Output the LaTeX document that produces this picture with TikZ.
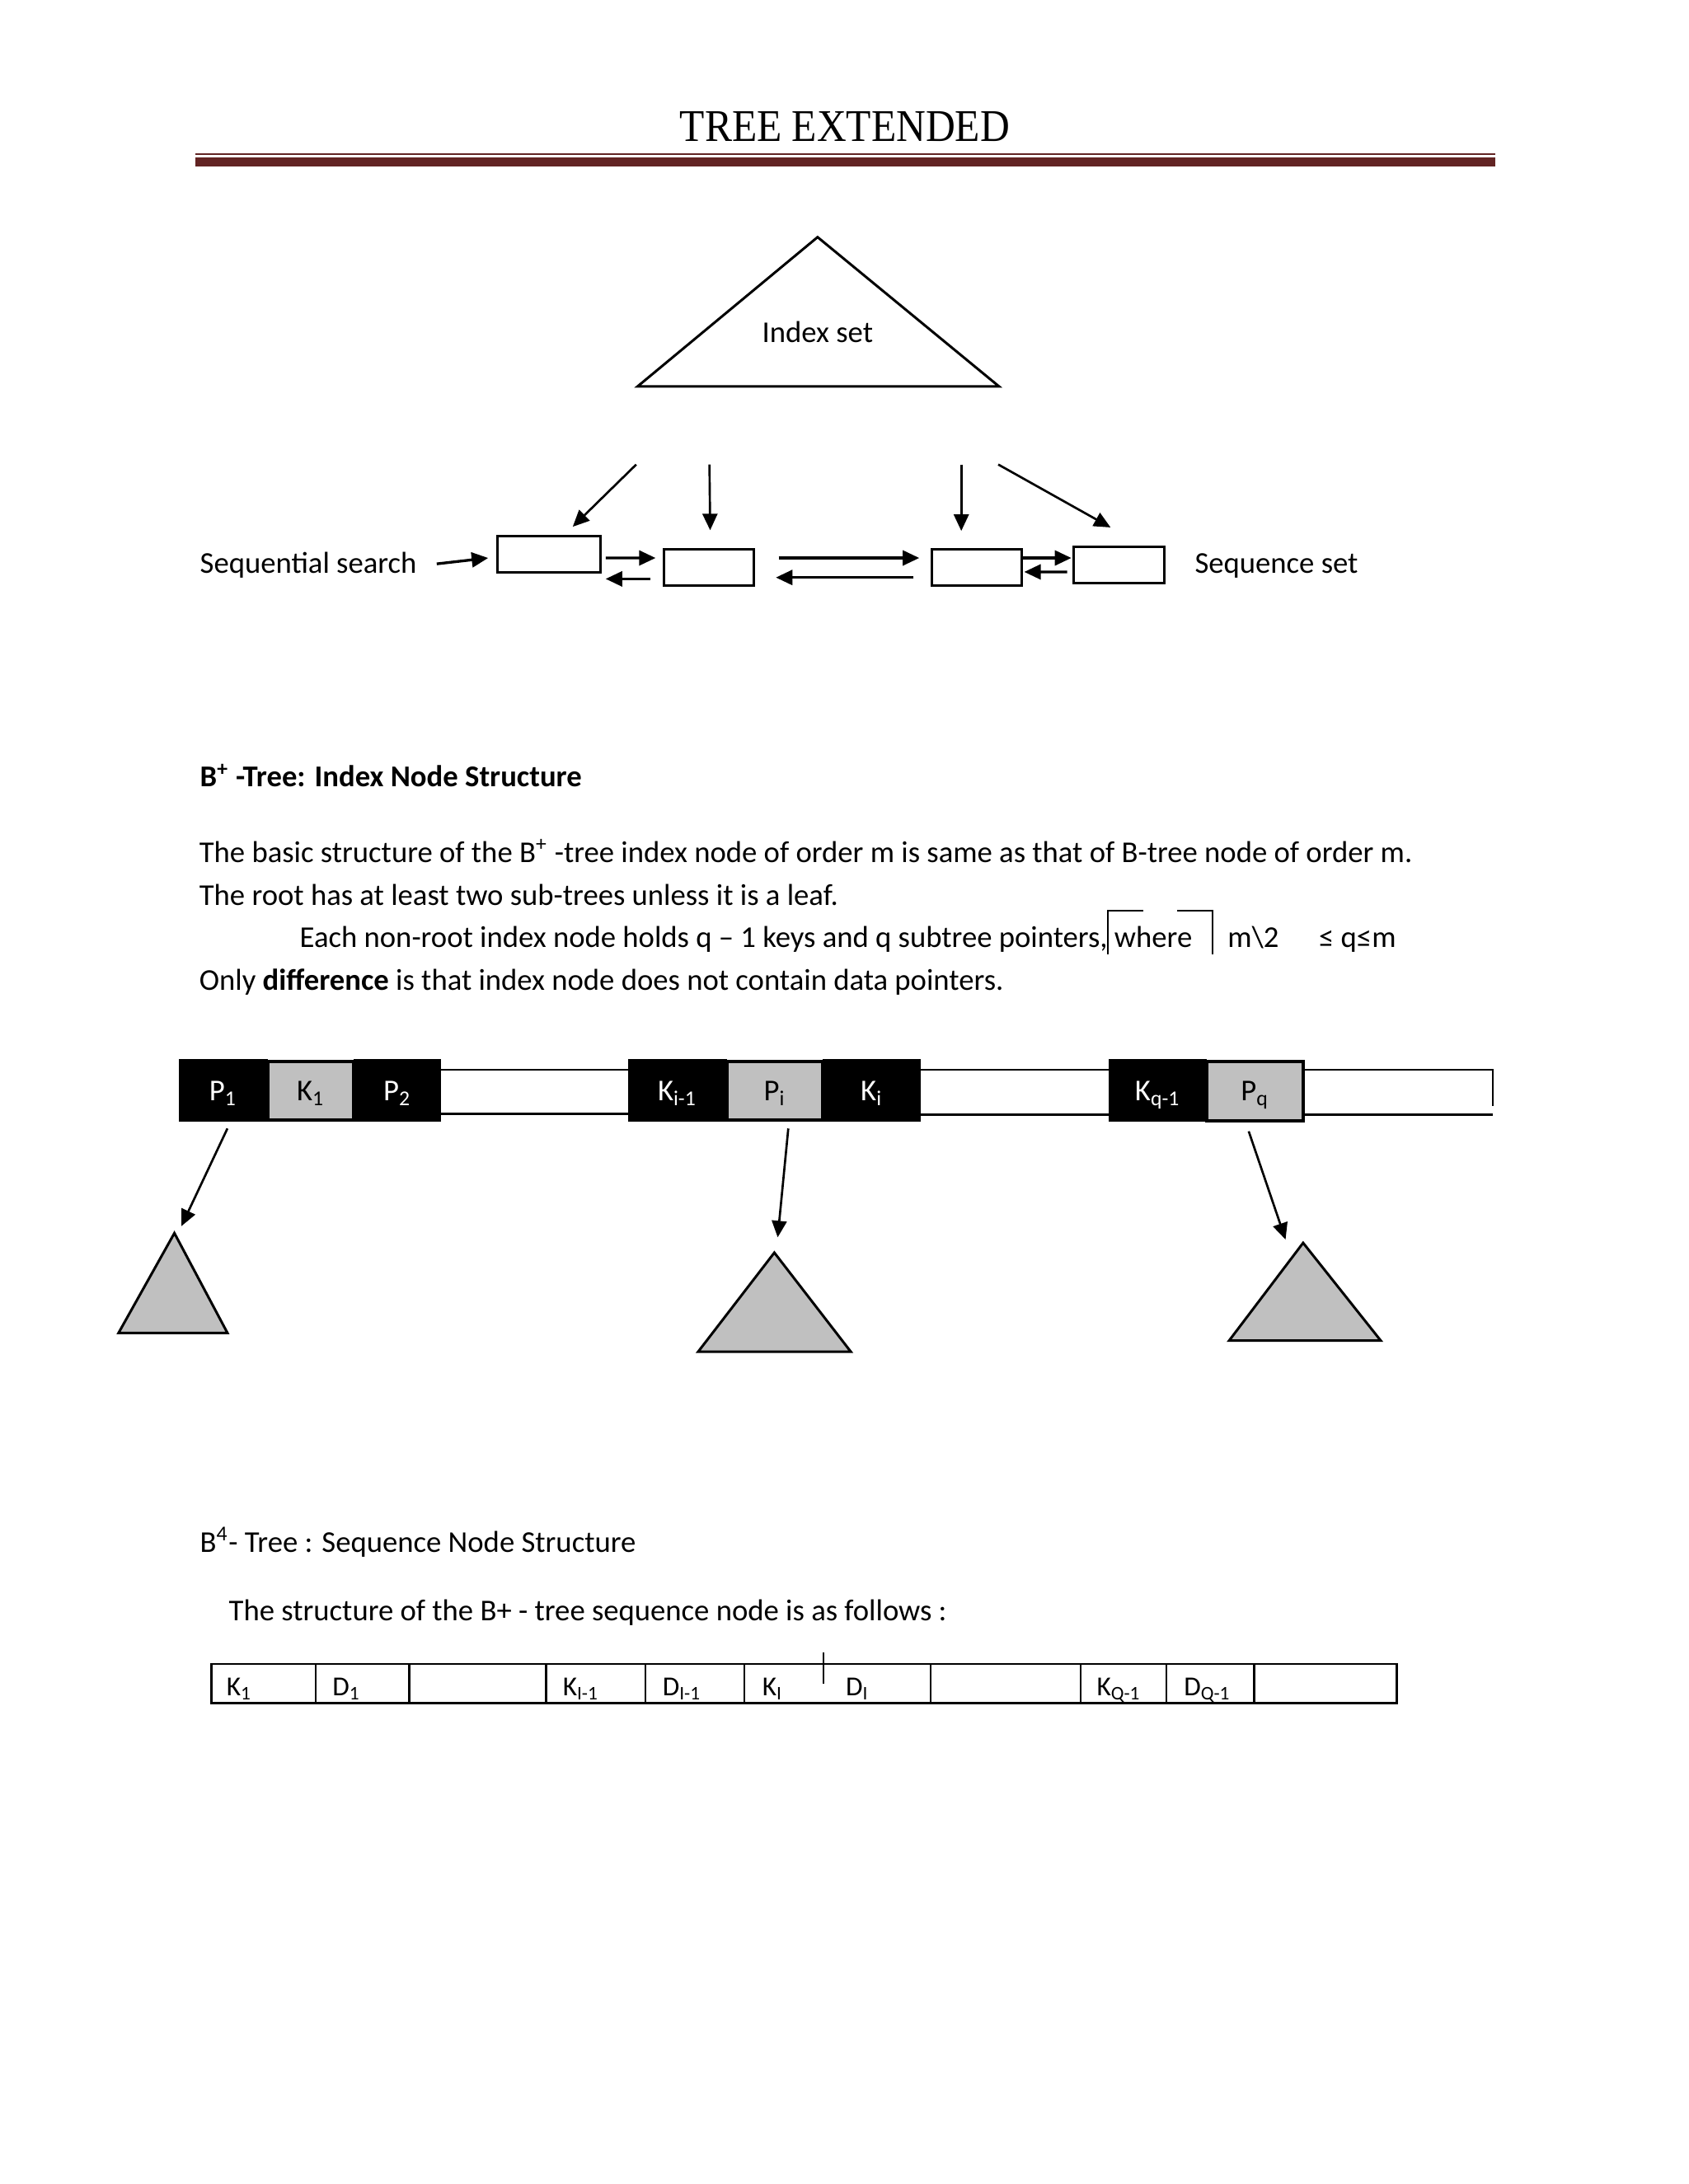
\documentclass[tikz,border=0pt]{standalone}
\usepackage{fontspec}
\setmainfont{Carlito}
\newfontfamily\titlefont{Liberation Serif}
\usetikzlibrary{calc,arrows.meta}
\definecolor{rulered}{HTML}{622423}
\definecolor{cellgray}{HTML}{C0C0C0}

\begin{document}
\begin{tikzpicture}[x=0.017843cm,y=-0.017843cm,font=\fontsize{11}{13.4}\selectfont,
    txt/.style={inner sep=0pt,anchor=base west},
    arr/.style={-{Triangle[length=6pt,width=5.4pt]},line width=0.8pt},
    box/.style={draw,line width=0.9pt,minimum height=0.464cm,inner sep=0pt},
    wlab/.style={text=white,inner sep=0pt,anchor=base},
    blab/.style={inner sep=0pt,anchor=base},
    tlab/.style={inner sep=0pt,anchor=base west,font=\fontsize{10}{12}\selectfont}]
  \useasboundingbox (0,0) rectangle (1210,1565.67);
  % title and rules
  \node[font=\titlefont\fontsize{16.5}{18}\selectfont,xscale=0.9](title) at (605.5,91){TREE EXTENDED};
  \draw[rulered,line width=0.6pt] (140,110.5) -- (1072,110.5);
  \draw[rulered,line width=3.1pt] (140,116.2) -- (1072,116.2);

  % index set / sequence set
  \coordinate (top) at (586,170);
  \draw[line width=0.9pt] (top) -- (716,277) -- (457,277) -- cycle;
  \node(idx) at (586,238){Index set};
  \node[box,minimum width=1.31cm](b1) at (393.5,397.5){};
  \node[box,minimum width=1.15cm](b2) at (508,406.5){};
  \node[box,minimum width=1.15cm](b3) at (700,406.5){};
  \node[box,minimum width=1.15cm](b4) at (802,405){};
  \coordinate (s1) at (456,333);
  \coordinate (s2) at (508.5,333);
  \coordinate (s3) at (689,333);
  \coordinate (s4) at (715.5,333);
  \draw[arr] (s1) -- ($(b1.north)+(17,-6)$);
  \draw[arr] (s2) -- ($(b2.north)+(1,-12.5)$);
  \draw[arr] (s3) -- ($(b3.north)+(-11,-12)$);
  \draw[arr] (s4) -- ($(b4.north)+(-6,-13)$);
  \node[txt](ss) at (143,411){Sequential search};
  \node[txt](sq) at (856,411){Sequence set};
  \draw[arr,line width=1pt] ($(ss.east)+(14,-1)$) -- ($(b1.west)+(-6,2.5)$);
  \draw[arr,line width=1pt] ($(b1.east)+(3,2.5)$) -- ($(b2.west)+(-5,-6.5)$);
  \draw[arr,line width=1pt] ($(b2.west)+(-9,8.5)$) -- ($(b1.east)+(3,17.5)$);
  \draw[arr,line width=1pt] ($(b2.east)+(17,-6.5)$) -- ($(b3.west)+(-8,-6.5)$);
  \draw[arr,line width=1pt] ($(b3.west)+(-12,7.5)$) -- ($(b2.east)+(15,7.5)$);
  \draw[arr,line width=1pt] ($(b3.east)+(0,-6.5)$) -- ($(b4.west)+(-1,-5)$);
  \draw[arr,line width=1pt] ($(b4.west)+(-4,5)$) -- ($(b3.east)+(1,3.5)$);

  % text
  \node[txt,font=\fontsize{11}{13.4}\selectfont\bfseries](h1) at (143,564){B\textsuperscript{+} -Tree: Index Node Structure};
  \node[txt](l1) at (142.5,618){The basic structure of the B\textsuperscript{+} -tree index node of order m is same as that of B-tree node of order m.};
  \node[txt](l2) at (142.5,649){The root has at least two sub-trees unless it is a leaf.};
  \node[txt](l3) at (214.5,679.4){Each non-root index node holds q -- 1 keys and q subtree pointers, where};
  \draw[line width=0.6pt] (819.5,653) -- (794,653) -- (794,684);
  \draw[line width=0.6pt] (843.7,653) -- (869,653) -- (869,684);
  \node[txt](m2) at (879.6,679.4){m\textbackslash 2};
  \node[txt](qm) at (945,679.4){≤ q≤m};
  \node[txt](l4) at (142.5,710){Only \textbf{difference} is that index node does not contain data pointers.};

  % index node
  \fill (128,759) rectangle (192,804);
  \filldraw[fill=cellgray,line width=1pt] (192,761) rectangle (253.5,803);
  \fill (253.5,759) rectangle (316,804);
  \fill (450,759) rectangle (521,804);
  \filldraw[fill=cellgray,line width=1pt] (521,761) rectangle (589.6,803);
  \fill (589.6,759) rectangle (660,804);
  \fill (794.6,759) rectangle (865,804);
  \filldraw[fill=cellgray,line width=1pt] (865,761) rectangle (934,803.5);
  \draw[line width=0.7pt] (316,767) -- (450,767) (316,798.5) -- (450,798.5);
  \draw[line width=0.7pt] (660,767) -- (795,767) (660,799) -- (795,799);
  \draw[line width=0.7pt] (934,767) -- (1070,767) -- (1070,793) (934,799) -- (1070,799);
  \node[wlab](p1) at (160,789.3){P\textsubscript{1}};
  \node[blab](k1) at (222.7,789.3){K\textsubscript{1}};
  \node[wlab](p2) at (284.7,789.3){P\textsubscript{2}};
  \node[wlab](ki1) at (485.5,789.3){K\textsubscript{i-1}};
  \node[blab](pi) at (555.3,789.3){P\textsubscript{i}};
  \node[wlab](ki) at (624.8,789.3){K\textsubscript{i}};
  \node[wlab](kq1) at (829.8,789.3){K\textsubscript{q-1}};
  \node[blab](pq) at (899.5,789.3){P\textsubscript{q}};

  % subtrees
  \coordinate (t1) at (125,884);
  \coordinate (t2) at (555,898);
  \coordinate (t3) at (934,891);
  \filldraw[fill=cellgray,line width=0.9pt] (t1) -- (163,955.5) -- (85,955.5) -- cycle;
  \filldraw[fill=cellgray,line width=0.9pt] (t2) -- (609.8,969) -- (500.4,969) -- cycle;
  \filldraw[fill=cellgray,line width=0.9pt] (t3) -- (989.6,961) -- (881,961) -- cycle;
  \coordinate (u1) at (163,809);
  \coordinate (u2) at (565,809);
  \coordinate (u3) at (895,811);
  \draw[arr] (u1) -- ($(t1)+(5,-5)$);
  \draw[arr] (u2) -- ($(t2)+(2.4,-11)$);
  \draw[arr] (u3) -- ($(t3)+(-12.6,-2.4)$);

  % sequence node
  \node[txt](h2) at (143,1112.6){B\textsuperscript{4}- Tree : Sequence Node Structure};
  \node[txt](l5) at (163.7,1162){The structure of the B+ - tree sequence node is as follows :};
  \draw[line width=0.8pt] (151.4,1192.8) rectangle (1001.2,1220.8);
  \foreach \x in {226.2,293.4,391.5,462.7,533.4,667.1,774.6,835.9,899}
    \draw[line width=0.7pt] (\x,1192.8) -- (\x,1220.8);
  \draw[line width=0.6pt] (590,1184.6) -- (590,1207);
  \node[tlab](sk1) at (162,1215.7){K\textsubscript{1}};
  \node[tlab](sd1) at (237.9,1215.7){D\textsubscript{1}};
  \node[tlab](ski1) at (403,1215.7){K\textsubscript{I-1}};
  \node[tlab](sdi1) at (474.5,1215.7){D\textsubscript{I-1}};
  \node[tlab](ski) at (546,1215.7){K\textsubscript{I}};
  \node[tlab](sdi) at (605.8,1215.7){D\textsubscript{I}};
  \node[tlab](skq) at (785.7,1215.7){K\textsubscript{Q-1}};
  \node[tlab](sdq) at (848.2,1215.7){D\textsubscript{Q-1}};
\end{tikzpicture}
\end{document}
